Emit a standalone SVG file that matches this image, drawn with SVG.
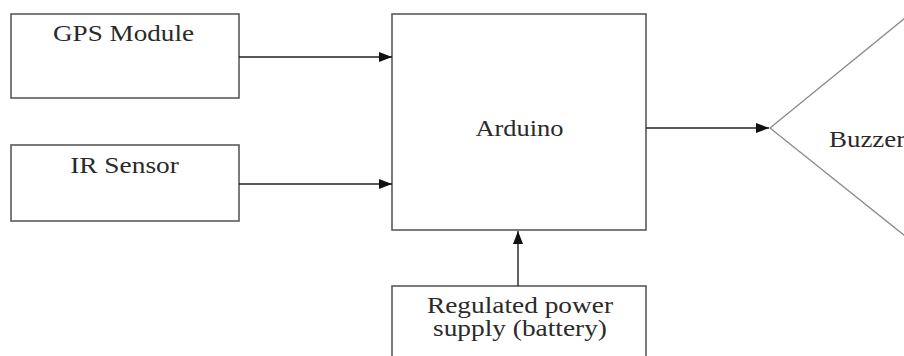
<svg xmlns="http://www.w3.org/2000/svg" width="904" height="356" viewBox="0 0 904 356">
<style>
.box{fill:#fff;stroke:#5a5a5a;stroke-width:1.6}
.lbl{font-family:'Liberation Serif','Times New Roman',serif;font-size:23px;fill:#2a2a2a;text-anchor:middle}
.conn{stroke:#222;stroke-width:1.4;fill:none}
.tri{stroke:#8a8a8a;stroke-width:1.3;fill:none}
</style>
<defs>
<marker id="ah" markerUnits="userSpaceOnUse" markerWidth="14" markerHeight="10" refX="13" refY="5" orient="auto">
<path d="M0,0 L13,5 L0,10 Z" fill="#111"/>
</marker>
</defs>
<rect width="904" height="356" fill="#fff"/>
<g id="gps">
<rect class="box" x="11" y="14" width="228" height="84"/>
<text class="lbl" transform="translate(123.5,41) scale(1.18,1)">GPS Module</text>
</g>
<g id="ir">
<rect class="box" x="11" y="145" width="228" height="76"/>
<text class="lbl" transform="translate(124.5,173) scale(1.19,1)">IR Sensor</text>
</g>
<g id="arduino">
<rect class="box" x="392" y="14" width="254" height="216"/>
<text class="lbl" transform="translate(519.5,135.5) scale(1.15,1)">Arduino</text>
</g>
<g id="power">
<rect class="box" x="392" y="286" width="254" height="80"/>
<text class="lbl" transform="translate(520,313) scale(1.19,1)">Regulated power</text>
<text class="lbl" transform="translate(520,336) scale(1.19,1)">supply (battery)</text>
</g>
<g id="buzzer">
<path class="tri" d="M905,18 L770,128 L905,236"/>
<text class="lbl" transform="translate(829,147) scale(1.17,1)" style="text-anchor:start">Buzzer</text>
</g>
<g id="connectors">
<line class="conn" x1="239" y1="57" x2="392" y2="57" marker-end="url(#ah)"/>
<line class="conn" x1="239" y1="184" x2="392" y2="184" marker-end="url(#ah)"/>
<line class="conn" x1="646" y1="128" x2="769" y2="128" marker-end="url(#ah)"/>
<line class="conn" x1="518" y1="286" x2="518" y2="231" marker-end="url(#ah)"/>
</g>
</svg>
